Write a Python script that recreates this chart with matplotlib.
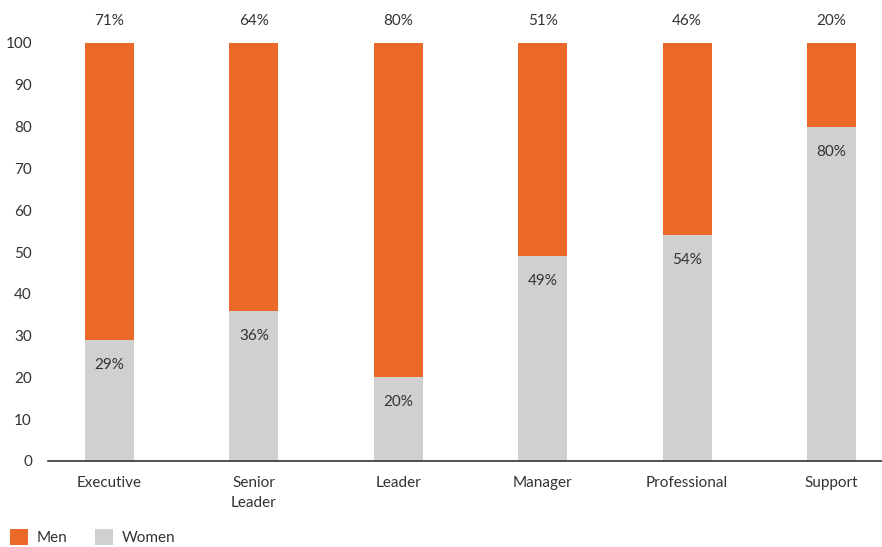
import matplotlib
matplotlib.use("Agg")
import matplotlib.pyplot as plt
import numpy as np

categories = ["Executive", "Senior\nLeader", "Leader", "Manager", "Professional", "Support"]
women = [29, 36, 20, 49, 54, 80]
men = [71, 64, 80, 51, 46, 20]

orange = "#EB6928"
grey = "#D0D0D0"
txt = "#333333"

plt.rcParams['font.family'] = ['Lato', 'DejaVu Sans']
plt.rcParams['font.size'] = 11

fig = plt.figure(figsize=(8.82, 5.47), dpi=100)
ax = fig.add_axes([48/882, 1-461/547, 1-48/882, (461-43)/547])

x = np.arange(len(categories))
w = 0.34
ax.bar(x, women, width=w, color=grey, label="Women")
ax.bar(x, men, width=w, bottom=women, color=orange, label="Men")

for xi, wv, mv in zip(x, women, men):
    ax.annotate(f"{wv}%", (xi, wv), xytext=(0, -25), textcoords="offset pixels",
                ha="center", va="center", color=txt, fontsize=11)
    ax.annotate(f"{mv}%", (xi, wv + mv), xytext=(0, 22), textcoords="offset pixels",
                ha="center", va="center", color=txt, fontsize=11)

ax.set_xlim(-0.426, 5.35)
ax.set_ylim(0, 100)
ax.set_yticks(range(0, 101, 10))
ax.set_xticks(x)
ax.set_xticklabels(categories, color=txt, fontsize=11, linespacing=1.55)
ax.tick_params(axis="y", length=0, pad=11.5, labelcolor=txt, labelsize=11)
ax.tick_params(axis="x", length=0, pad=11)
for s in ["top", "right", "left"]:
    ax.spines[s].set_visible(False)
ax.spines["bottom"].set_color("#333333")
ax.spines["bottom"].set_linewidth(1.2)

handles, labels = ax.get_legend_handles_labels()
order = [1, 0]
fig.legend([handles[i] for i in order], [labels[i] for i in order],
           loc="lower left", bbox_to_anchor=(10/882, 2/547), ncol=2, frameon=False,
           borderpad=0, borderaxespad=0,
           handlelength=1.2, handleheight=1.2, handletextpad=0.55, columnspacing=1.8,
           fontsize=11, labelcolor=txt)

fig.savefig("out.png", dpi=100)
